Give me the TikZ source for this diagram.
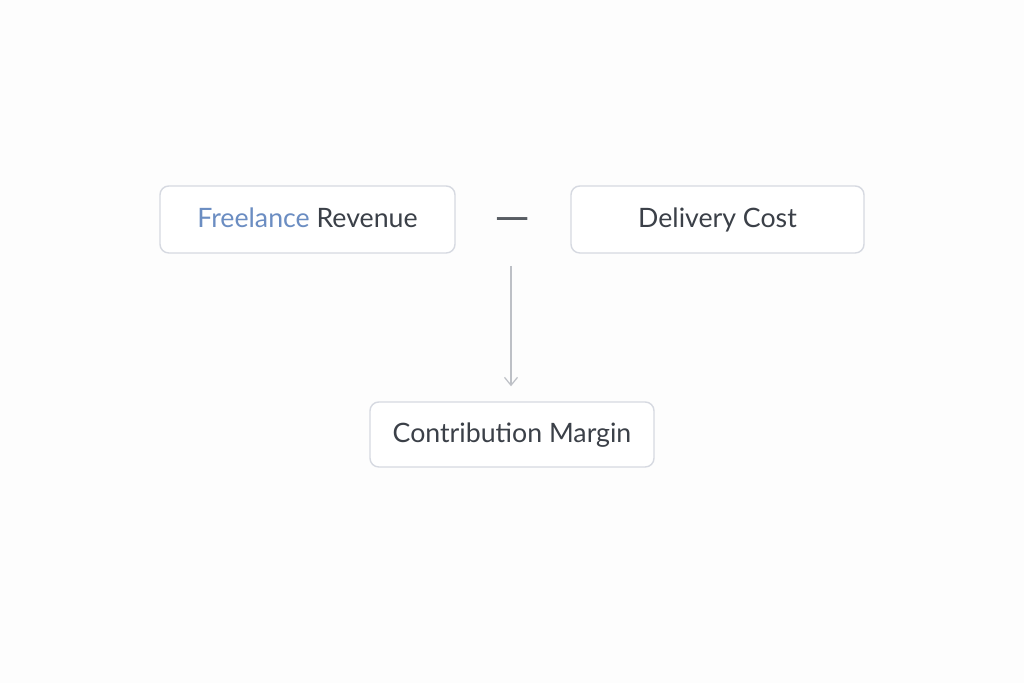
\documentclass[tikz,border=0pt]{standalone}
\usepackage{fontspec}
\setmainfont{Lato}
\usetikzlibrary{arrows.meta}
\definecolor{boxline}{HTML}{D6D9E1}
\definecolor{ink}{HTML}{3B4048}
\definecolor{blueink}{HTML}{6B8DC2}
\definecolor{arrowline}{HTML}{BDC0C6}
\definecolor{paper}{HTML}{FDFDFD}
\tikzset{
  termbox/.style={draw=boxline, line width=0.8pt, rounded corners=5pt, fill=white,
    text=ink, font=\fontsize{15.2}{18}\selectfont, text height=2ex, text depth=0.1ex,
    anchor=center}
}
\begin{document}
\begin{tikzpicture}[>={Straight Barb[length=1.6mm,width=2.6mm]}]
    \fill[paper] (0,0) rectangle (20.48,13.66);
    \useasboundingbox (0,0) rectangle (20.48,13.66);

    \node[termbox, minimum width=5.9cm, minimum height=1.34cm] (revenue) at (6.15,9.27)
    {\textcolor{blueink}{Freelance} Revenue};
    \node[termbox, minimum width=5.86cm, minimum height=1.34cm] (cost) at (14.35,9.27)
    {Delivery Cost};
    \node[termbox, minimum width=5.68cm, minimum height=1.3cm] (margin) at (10.24,4.97)
    {Contribution Margin};

    \node[text=ink!85, font=\fontsize{26}{26}\selectfont, inner sep=0pt] (minus) at (10.25,9.16) {—};

    \coordinate (split) at (10.22,8.34);
    \draw [->, arrowline, line width=0.7pt, shorten >=0.3cm] (split) -- (split |- margin.north);
  \end{tikzpicture}
\end{document}
